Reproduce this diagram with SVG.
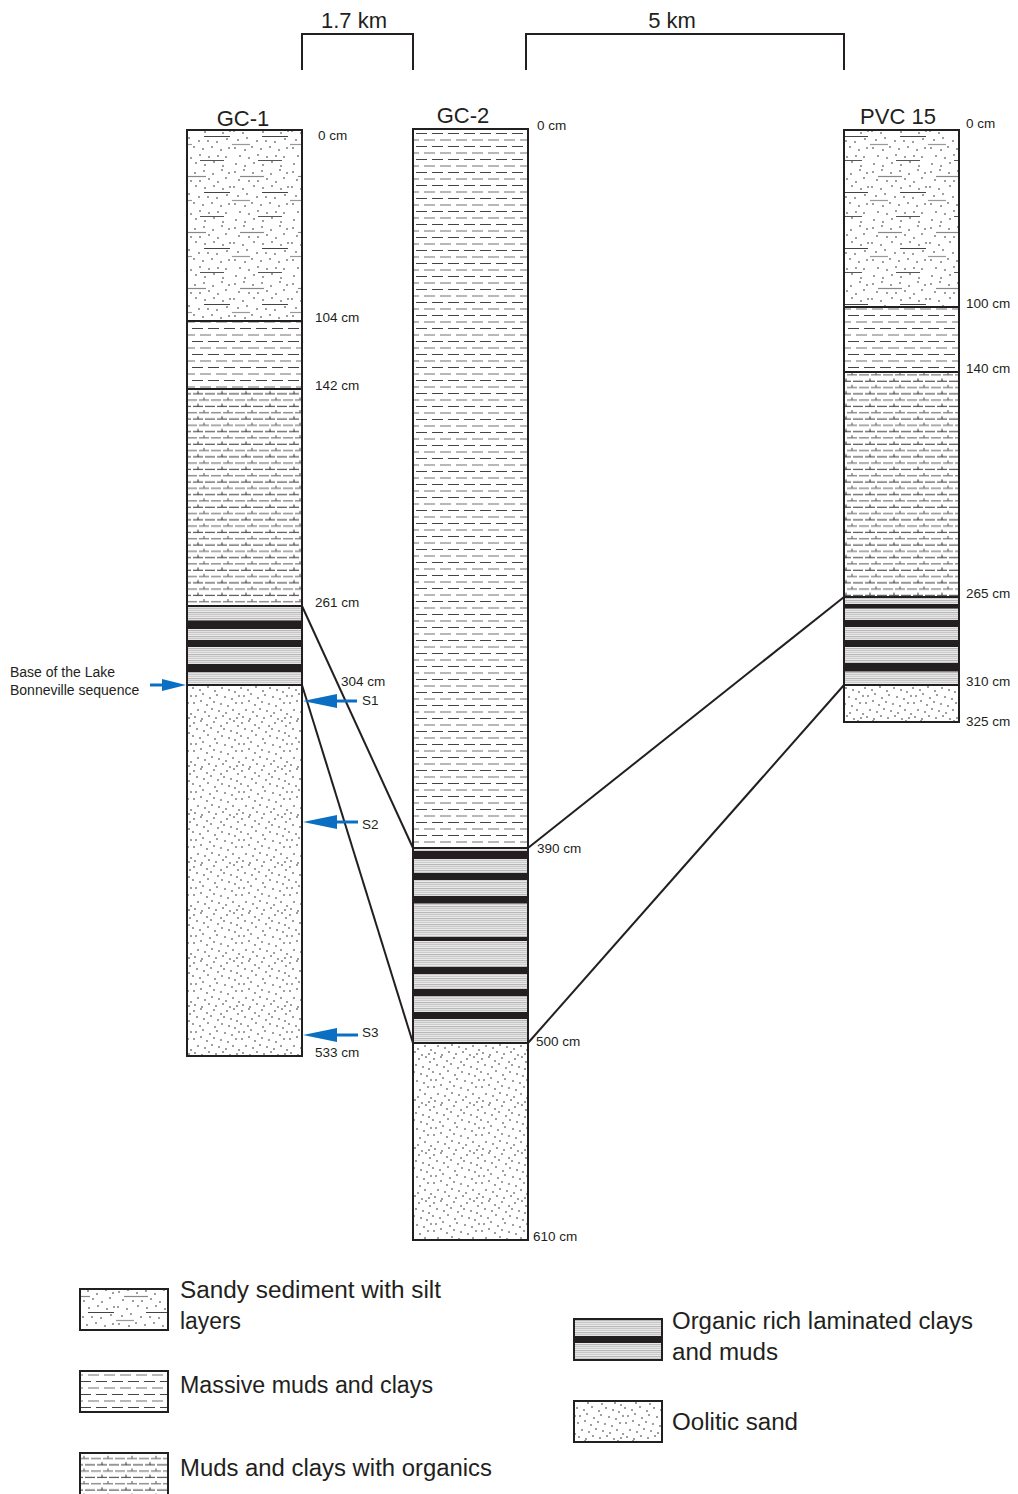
<svg xmlns="http://www.w3.org/2000/svg" width="1018" height="1494" viewBox="0 0 1018 1494">
<style>
.t{font-family:"Liberation Sans",Arial,sans-serif;fill:#231f20}
.title{font-size:22px;text-anchor:middle}
.d{font-size:13.5px}
.leg{font-size:23px}
.box{fill:none;stroke:#231f20;stroke-width:2}
.bd{stroke:#231f20;stroke-width:2}
.con{stroke:#231f20;stroke-width:2;fill:none}
.blk{fill:#231f20}
.ar{stroke:#0a6fc2;stroke-width:3}
.ah{fill:#0a6fc2}
</style>
<defs>
<pattern id="silt" patternUnits="userSpaceOnUse" width="58" height="56">
<rect width="58" height="56" fill="#fff"/>
<g fill="#222">
<circle cx="3" cy="4" r="0.8"/><circle cx="12" cy="2" r="0.8"/><circle cx="21" cy="5" r="0.8"/><circle cx="30" cy="3" r="0.8"/><circle cx="39" cy="6" r="0.8"/><circle cx="48" cy="2" r="0.8"/><circle cx="55" cy="5" r="0.8"/>
<circle cx="7" cy="12" r="0.8"/><circle cx="17" cy="13" r="0.8"/><circle cx="26" cy="13" r="0.8"/><circle cx="35" cy="11" r="0.8"/><circle cx="44" cy="14" r="0.8"/><circle cx="52" cy="10" r="0.8"/>
<circle cx="2" cy="19" r="0.8"/><circle cx="11" cy="21" r="0.8"/><circle cx="22" cy="18" r="0.8"/><circle cx="31" cy="20" r="0.8"/><circle cx="40" cy="18" r="0.8"/><circle cx="49" cy="21" r="0.8"/><circle cx="56" cy="19" r="0.8"/>
<circle cx="6" cy="28" r="0.8"/><circle cx="15" cy="26" r="0.8"/><circle cx="25" cy="29" r="0.8"/><circle cx="34" cy="29" r="0.8"/><circle cx="43" cy="30" r="0.8"/><circle cx="53" cy="27" r="0.8"/>
<circle cx="3" cy="36" r="0.8"/><circle cx="13" cy="38" r="0.8"/><circle cx="20" cy="35" r="0.8"/><circle cx="29" cy="37" r="0.8"/><circle cx="38" cy="35" r="0.8"/><circle cx="47" cy="38" r="0.8"/><circle cx="55" cy="36" r="0.8"/>
<circle cx="8" cy="44" r="0.8"/><circle cx="17" cy="46" r="0.8"/><circle cx="26" cy="43" r="0.8"/><circle cx="35" cy="45" r="0.8"/><circle cx="44" cy="44" r="0.8"/><circle cx="52" cy="45" r="0.8"/>
<circle cx="4" cy="52" r="0.8"/><circle cx="13" cy="54" r="0.8"/><circle cx="22" cy="51" r="0.8"/><circle cx="31" cy="53" r="0.8"/><circle cx="40" cy="50" r="0.8"/><circle cx="49" cy="54" r="0.8"/>
</g>
<line x1="8" y1="8.5" x2="32" y2="8.5" stroke="#888" stroke-width="1.2"/>
<line x1="30" y1="24.5" x2="56" y2="24.5" stroke="#444" stroke-width="1"/>
<line x1="0" y1="32.5" x2="18" y2="32.5" stroke="#999" stroke-width="1.2"/>
<line x1="26" y1="48.5" x2="50" y2="48.5" stroke="#555" stroke-width="1"/>
</pattern>
<pattern id="ool" patternUnits="userSpaceOnUse" width="48" height="48">
<rect width="48" height="48" fill="#fff"/>
<g fill="#222">
<circle cx="2" cy="3" r="0.8"/><circle cx="9" cy="1" r="0.8"/><circle cx="15" cy="5" r="0.8"/><circle cx="22" cy="2" r="0.8"/><circle cx="29" cy="6" r="0.8"/><circle cx="35" cy="3" r="0.8"/><circle cx="42" cy="1" r="0.8"/><circle cx="46" cy="6" r="0.8"/>
<circle cx="5" cy="9" r="0.8"/><circle cx="12" cy="11" r="0.8"/><circle cx="19" cy="8" r="0.8"/><circle cx="26" cy="12" r="0.8"/><circle cx="32" cy="9" r="0.8"/><circle cx="39" cy="11" r="0.8"/><circle cx="45" cy="13" r="0.8"/>
<circle cx="1" cy="16" r="0.8"/><circle cx="8" cy="18" r="0.8"/><circle cx="16" cy="15" r="0.8"/><circle cx="23" cy="19" r="0.8"/><circle cx="30" cy="16" r="0.8"/><circle cx="37" cy="18" r="0.8"/><circle cx="43" cy="20" r="0.8"/>
<circle cx="4" cy="24" r="0.8"/><circle cx="11" cy="22" r="0.8"/><circle cx="18" cy="26" r="0.8"/><circle cx="25" cy="23" r="0.8"/><circle cx="33" cy="25" r="0.8"/><circle cx="40" cy="27" r="0.8"/><circle cx="47" cy="24" r="0.8"/>
<circle cx="2" cy="31" r="0.8"/><circle cx="9" cy="29" r="0.8"/><circle cx="15" cy="33" r="0.8"/><circle cx="22" cy="30" r="0.8"/><circle cx="29" cy="32" r="0.8"/><circle cx="36" cy="34" r="0.8"/><circle cx="44" cy="31" r="0.8"/>
<circle cx="6" cy="38" r="0.8"/><circle cx="13" cy="40" r="0.8"/><circle cx="20" cy="37" r="0.8"/><circle cx="27" cy="39" r="0.8"/><circle cx="34" cy="41" r="0.8"/><circle cx="41" cy="38" r="0.8"/><circle cx="47" cy="42" r="0.8"/>
<circle cx="3" cy="45" r="0.8"/><circle cx="10" cy="47" r="0.8"/><circle cx="17" cy="44" r="0.8"/><circle cx="24" cy="46" r="0.8"/><circle cx="31" cy="44" r="0.8"/><circle cx="38" cy="47" r="0.8"/><circle cx="45" cy="46" r="0.8"/>
</g>
</pattern>
<pattern id="mud" patternUnits="userSpaceOnUse" width="16" height="13">
<rect width="16" height="13" fill="#fff"/>
<line x1="0" y1="3.5" x2="11" y2="3.5" stroke="#444" stroke-width="1"/>
<line x1="8" y1="10" x2="16" y2="10" stroke="#999" stroke-width="1.4"/>
<line x1="0" y1="10" x2="3" y2="10" stroke="#999" stroke-width="1.4"/>
</pattern>
<pattern id="org" patternUnits="userSpaceOnUse" width="24" height="12.6">
<rect width="24" height="12.6" fill="#fff"/>
<line x1="1" y1="3.2" x2="11" y2="3.2" stroke="#333" stroke-width="1"/>
<line x1="13" y1="3.2" x2="23" y2="3.2" stroke="#333" stroke-width="1"/>
<line x1="6" y1="0.4" x2="6" y2="3.2" stroke="#333" stroke-width="1"/>
<line x1="7" y1="9.5" x2="17" y2="9.5" stroke="#777" stroke-width="1.2"/>
<line x1="19" y1="9.5" x2="24" y2="9.5" stroke="#777" stroke-width="1.2"/>
<line x1="0" y1="9.5" x2="5" y2="9.5" stroke="#777" stroke-width="1.2"/>
<line x1="12" y1="6.7" x2="12" y2="9.5" stroke="#555" stroke-width="1"/>
</pattern>
<pattern id="lam" patternUnits="userSpaceOnUse" width="10" height="6">
<rect width="10" height="6" fill="#fff"/>
<line x1="0" y1="0.8" x2="10" y2="0.8" stroke="#555" stroke-width="0.6"/>
<line x1="0" y1="2.8" x2="10" y2="2.8" stroke="#b5b5b5" stroke-width="1.1"/>
<line x1="0" y1="4.8" x2="10" y2="4.8" stroke="#888" stroke-width="0.6"/>
</pattern>
</defs>
<rect width="1018" height="1494" fill="#fff"/>

<g id="scale-bars">
<path class="con" d="M302,70 V34 H413 V70"/>
<text class="t" x="354" y="28" font-size="22" text-anchor="middle">1.7 km</text>
<path class="con" d="M526,70 V34 H844 V70"/>
<text class="t" x="672" y="28" font-size="22" text-anchor="middle">5 km</text>
</g>

<g id="GC-1">
<text class="t title" x="243" y="126">GC-1</text>
<rect x="187" y="130" width="115" height="191" fill="url(#silt)"/>
<rect x="187" y="321" width="115" height="68" fill="url(#mud)"/>
<rect x="187" y="389" width="115" height="217" fill="url(#org)"/>
<rect x="187" y="606" width="115" height="79" fill="url(#lam)"/>
<rect class="blk" x="187" y="620.5" width="115" height="8.5"/>
<rect class="blk" x="187" y="640" width="115" height="7"/>
<rect class="blk" x="187" y="664" width="115" height="8"/>
<rect x="187" y="685" width="115" height="371" fill="url(#ool)"/>
<line class="bd" x1="187" y1="321" x2="302" y2="321"/>
<line class="bd" x1="187" y1="389" x2="302" y2="389"/>
<line class="bd" x1="187" y1="606" x2="302" y2="606"/>
<line class="bd" x1="187" y1="685" x2="302" y2="685"/>
<rect class="box" x="187" y="130" width="115" height="926"/>
<text class="t d" x="318" y="140">0 cm</text>
<text class="t d" x="315" y="322">104 cm</text>
<text class="t d" x="315" y="390">142 cm</text>
<text class="t d" x="315" y="607">261 cm</text>
<text class="t d" x="341" y="686">304 cm</text>
<text class="t d" x="315" y="1057">533 cm</text>
</g>

<g id="GC-2">
<text class="t title" x="463" y="123">GC-2</text>
<rect x="413" y="129" width="115" height="719" fill="url(#mud)"/>
<rect x="413" y="848" width="115" height="195" fill="url(#lam)"/>
<rect class="blk" x="413" y="851" width="115" height="8"/>
<rect class="blk" x="413" y="873" width="115" height="7"/>
<rect class="blk" x="413" y="896" width="115" height="7.5"/>
<rect class="blk" x="413" y="937" width="115" height="4"/>
<rect class="blk" x="413" y="967" width="115" height="7"/>
<rect class="blk" x="413" y="989" width="115" height="7"/>
<rect class="blk" x="413" y="1012" width="115" height="7"/>
<rect x="413" y="1043" width="115" height="197" fill="url(#ool)"/>
<line class="bd" x1="413" y1="848" x2="528" y2="848"/>
<line class="bd" x1="413" y1="1043" x2="528" y2="1043"/>
<rect class="box" x="413" y="129" width="115" height="1111"/>
<text class="t d" x="537" y="130">0 cm</text>
<text class="t d" x="537" y="853">390 cm</text>
<text class="t d" x="536" y="1046">500 cm</text>
<text class="t d" x="533" y="1241">610 cm</text>
</g>

<g id="PVC-15">
<text class="t title" x="898" y="124">PVC 15</text>
<rect x="844" y="130" width="115" height="177" fill="url(#silt)"/>
<rect x="844" y="307" width="115" height="65" fill="url(#mud)"/>
<rect x="844" y="372" width="115" height="225" fill="url(#org)"/>
<rect x="844" y="597" width="115" height="88" fill="url(#lam)"/>
<rect class="blk" x="844" y="604" width="115" height="4.5"/>
<rect class="blk" x="844" y="620" width="115" height="7"/>
<rect class="blk" x="844" y="640" width="115" height="7"/>
<rect class="blk" x="844" y="663" width="115" height="8.5"/>
<rect x="844" y="685" width="115" height="37" fill="url(#ool)"/>
<line class="bd" x1="844" y1="307" x2="959" y2="307"/>
<line class="bd" x1="844" y1="372" x2="959" y2="372"/>
<line class="bd" x1="844" y1="597" x2="959" y2="597"/>
<line class="bd" x1="844" y1="685" x2="959" y2="685"/>
<rect class="box" x="844" y="130" width="115" height="592"/>
<text class="t d" x="966" y="128">0 cm</text>
<text class="t d" x="966" y="308">100 cm</text>
<text class="t d" x="966" y="373">140 cm</text>
<text class="t d" x="966" y="598">265 cm</text>
<text class="t d" x="966" y="686">310 cm</text>
<text class="t d" x="966" y="726">325 cm</text>
</g>

<g id="connectors">
<line class="con" x1="302" y1="606" x2="413" y2="848"/>
<line class="con" x1="302" y1="685" x2="413" y2="1043"/>
<line class="con" x1="844" y1="597" x2="528" y2="848"/>
<line class="con" x1="844" y1="685" x2="528" y2="1043"/>
</g>

<g id="sample-arrows">
<text class="t" font-size="14" x="10" y="677">Base of the Lake</text>
<text class="t" font-size="14" x="10" y="695">Bonneville sequence</text>
<line class="ar" x1="150" y1="685" x2="165" y2="685"/>
<polygon class="ah" points="186,685 162,679 162,691"/>
<line class="ar" x1="330" y1="701" x2="357" y2="701"/>
<polygon class="ah" points="303,701 337,694 337,708"/>
<text class="t d" x="362" y="705">S1</text>
<line class="ar" x1="330" y1="822" x2="358" y2="822"/>
<polygon class="ah" points="303,822 337,815 337,829"/>
<text class="t d" x="362" y="829">S2</text>
<line class="ar" x1="330" y1="1035" x2="358" y2="1035"/>
<polygon class="ah" points="303,1035 337,1028 337,1042"/>
<text class="t d" x="362" y="1037">S3</text>
</g>

<g id="legend">
<rect x="80" y="1289" width="88" height="41" fill="url(#silt)"/>
<rect class="box" x="80" y="1289" width="88" height="41"/>
<text class="t leg" x="180" y="1298" textLength="261" lengthAdjust="spacingAndGlyphs">Sandy sediment with silt</text>
<text class="t leg" x="180" y="1329" textLength="61" lengthAdjust="spacingAndGlyphs">layers</text>
<rect x="80" y="1371" width="88" height="41" fill="url(#mud)"/>
<rect class="box" x="80" y="1371" width="88" height="41"/>
<text class="t leg" x="180" y="1393" textLength="253" lengthAdjust="spacingAndGlyphs">Massive muds and clays</text>
<rect x="80" y="1453" width="88" height="45" fill="url(#org)"/>
<rect class="box" x="80" y="1453" width="88" height="45"/>
<text class="t leg" x="180" y="1476" textLength="312" lengthAdjust="spacingAndGlyphs">Muds and clays with organics</text>
<rect x="574" y="1319" width="88" height="41" fill="url(#lam)"/>
<rect class="blk" x="574" y="1336" width="88" height="7"/>
<rect class="box" x="574" y="1319" width="88" height="41"/>
<text class="t leg" x="672" y="1329" textLength="301" lengthAdjust="spacingAndGlyphs">Organic rich laminated clays</text>
<text class="t leg" x="672" y="1360" textLength="106" lengthAdjust="spacingAndGlyphs">and muds</text>
<rect x="574" y="1401" width="88" height="41" fill="url(#ool)"/>
<rect class="box" x="574" y="1401" width="88" height="41"/>
<text class="t leg" x="672" y="1430" textLength="126" lengthAdjust="spacingAndGlyphs">Oolitic sand</text>
</g>
</svg>
